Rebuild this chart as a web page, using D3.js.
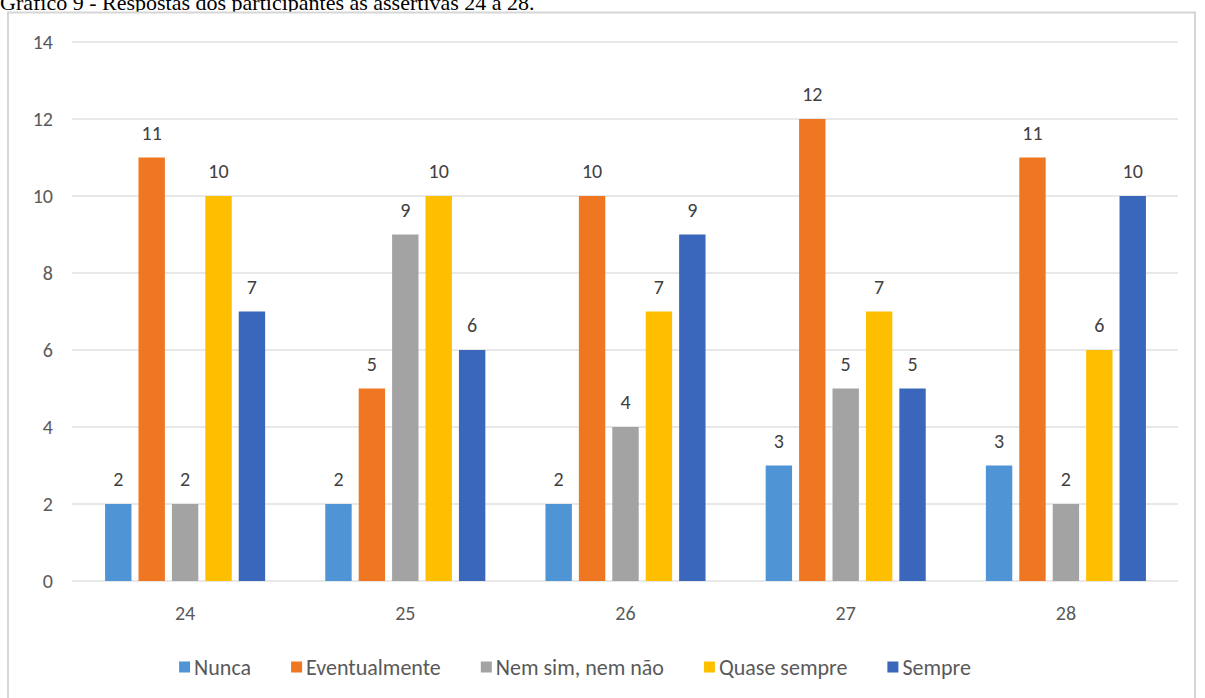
<!DOCTYPE html>
<html>
<head>
<meta charset="utf-8">
<script src="https://cdn.jsdelivr.net/npm/d3@7"></script>
<style>
  html, body { margin: 0; padding: 0; background: #fff; }
  svg { display: block; }
</style>
</head>
<body>
<svg id="chart" width="1205" height="698"></svg>
<script>
// Assertions (categories) and answer options (series)
const categories = ["24", "25", "26", "27", "28"];
const seriesNames = ["Nunca", "Eventualmente", "Nem sim, nem não", "Quase sempre", "Sempre"];
const seriesColors = ["#4f95d6", "#ef7722", "#a3a3a3", "#fdbf00", "#3a66bb"];

// Counts per answer option, one value per assertion
const nunca         = [2, 2, 2, 3, 3];
const eventualmente = [11, 5, 10, 12, 11];
const nemSimNemNao  = [2, 9, 4, 5, 2];
const quaseSempre   = [10, 10, 7, 7, 6];
const sempre        = [7, 6, 9, 5, 10];

const yTicks = [0, 2, 4, 6, 8, 10, 12, 14];

const seriesValues = [nunca, eventualmente, nemSimNemNao, quaseSempre, sempre];

const svg = d3.select("#chart");
const font = "Carlito, Lato, 'Open Sans', sans-serif";
const textGrey = "#595959";

// Caption above the chart frame
svg.append("text")
  .attr("x", 0).attr("y", 10)
  .attr("font-family", "'Liberation Serif', 'Times New Roman', serif")
  .attr("font-size", 22)
  .attr("fill", "#000")
  .text("Gráfico 9 - Respostas dos participantes às assertivas 24 a 28.");

// Chart frame
svg.append("rect")
  .attr("x", 8).attr("y", 12.5)
  .attr("width", 1187).attr("height", 700)
  .attr("fill", "#fff")
  .attr("stroke", "#d6d6d6")
  .attr("stroke-width", 2);

const plot = { left: 75, right: 1176, top: 42, bottom: 581 };

const x0 = d3.scaleBand().domain(categories).range([plot.left, plot.right]).padding(0);
const x1 = d3.scaleBand().domain(seriesNames).range([0, x0.bandwidth()])
  .paddingInner(0.21).paddingOuter(0.9);
const y = d3.scaleLinear().domain([0, 14]).range([plot.bottom, plot.top]);

// Horizontal gridlines
svg.append("g").selectAll("line").data(yTicks).join("line")
  .attr("x1", plot.left - 3).attr("x2", plot.right + 2)
  .attr("y1", d => y(d)).attr("y2", d => y(d))
  .attr("stroke", "#e1e1e1").attr("stroke-width", 1.5);

// Y axis tick labels
svg.append("g").selectAll("text").data(yTicks).join("text")
  .attr("x", 53).attr("y", d => y(d) + 7)
  .attr("text-anchor", "end")
  .attr("font-family", font).attr("font-size", 20)
  .attr("fill", textGrey)
  .text(d => d);

// Bars grouped by assertion
const groups = svg.append("g").selectAll("g").data(categories).join("g")
  .attr("transform", d => `translate(${x0(d)},0)`);

groups.each(function(cat, ci) {
  const g = d3.select(this);
  const rows = seriesNames.map((s, si) => ({ s, si, v: seriesValues[si][ci] }));
  g.selectAll("rect").data(rows).join("rect")
    .attr("x", d => x1(d.s))
    .attr("y", d => y(d.v))
    .attr("width", x1.bandwidth())
    .attr("height", d => y(0) - y(d.v))
    .attr("fill", d => seriesColors[d.si]);
  g.selectAll("text").data(rows).join("text")
    .attr("x", d => x1(d.s) + x1.bandwidth() / 2)
    .attr("y", d => y(d.v) - 18)
    .attr("text-anchor", "middle")
    .attr("font-family", font).attr("font-size", 20)
    .attr("fill", "#404040")
    .text(d => d.v);
});

// Category labels
svg.append("g").selectAll("text").data(categories).join("text")
  .attr("x", d => x0(d) + x0.bandwidth() / 2)
  .attr("y", 620)
  .attr("text-anchor", "middle")
  .attr("font-family", font).attr("font-size", 20)
  .attr("fill", textGrey)
  .text(d => d);

// Legend: entries laid out in a row, centred under the plot
const legendY = 667;
const sq = 11, sqGap = 4, itemGap = 40;
const legend = svg.append("g");
const items = legend.selectAll("g").data(seriesNames).join("g");
items.append("rect")
  .attr("x", 0).attr("y", legendY - sq / 2).attr("width", sq).attr("height", sq)
  .attr("fill", (d, i) => seriesColors[i]);
items.append("text")
  .attr("x", sq + sqGap).attr("y", legendY + 8)
  .attr("font-family", font).attr("font-size", 22)
  .attr("fill", textGrey)
  .text(d => d);
const widths = [];
items.select("text").each(function() { widths.push(sq + sqGap + this.getComputedTextLength()); });
const total = d3.sum(widths) + itemGap * (widths.length - 1);
let cursor = 575 - total / 2;
items.attr("transform", (d, i) => {
  const t = `translate(${cursor},0)`;
  cursor += widths[i] + itemGap;
  return t;
});
</script>
</body>
</html>
